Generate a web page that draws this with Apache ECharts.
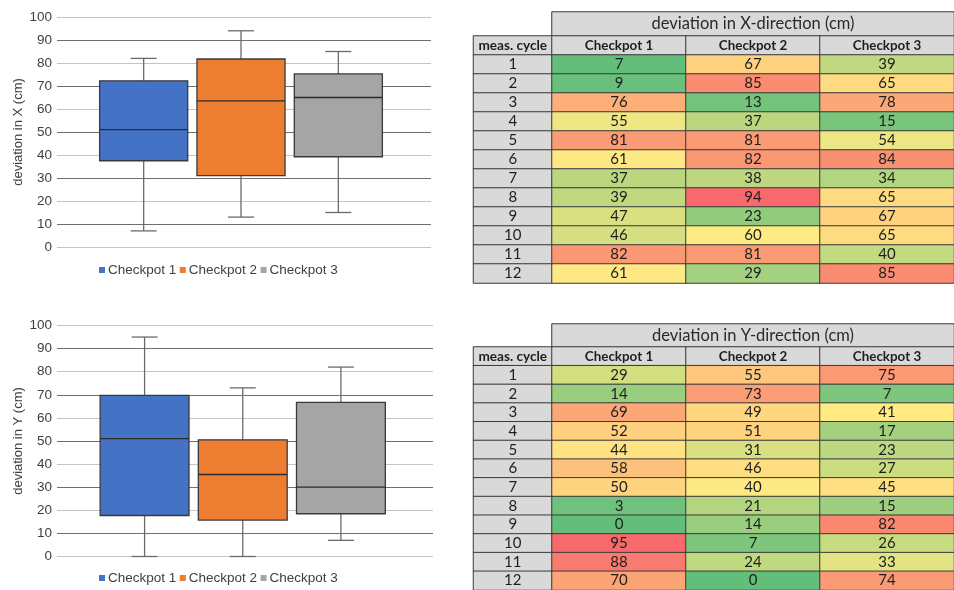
<!DOCTYPE html>
<html>
<head>
<meta charset="utf-8">
<title>Checkpoint deviations</title>
<script src="https://cdn.jsdelivr.net/npm/echarts@6/dist/echarts.min.js"></script>
<style>
  html, body { margin: 0; padding: 0; background: #fff; }
  #main { width: 954px; height: 590px; }
</style>
</head>
<body>
<div id="main"></div>
<script>
const checkpoints = ['Checkpot 1', 'Checkpot 2', 'Checkpot 3']
const cycles = ['1', '2', '3', '4', '5', '6', '7', '8', '9', '10', '11', '12']
const yTicks = [0, 10, 20, 30, 40, 50, 60, 70, 80, 90, 100]

// deviation in X-direction (cm), meas. cycle 1..12
const devX1 = [7, 9, 76, 55, 81, 61, 37, 39, 47, 46, 82, 61]
const devX2 = [67, 85, 13, 37, 81, 82, 38, 94, 23, 60, 81, 29]
const devX3 = [39, 65, 78, 15, 54, 84, 34, 65, 67, 65, 40, 85]

// deviation in Y-direction (cm), meas. cycle 1..12
const devY1 = [29, 14, 69, 52, 44, 58, 50, 3, 0, 95, 88, 70]
const devY2 = [55, 73, 49, 51, 31, 46, 40, 21, 14, 7, 24, 0]
const devY3 = [75, 7, 41, 17, 23, 27, 45, 15, 82, 26, 33, 74]

// box plots: [min, Q1, median, Q3, max]
const boxX = [
  [7, 37.5, 51, 72.25, 82],
  [13, 31, 63.5, 81.75, 94],
  [15, 39.25, 65, 75.25, 85],
]
const boxY = [
  [0, 17.75, 51, 69.75, 95],
  [0, 15.75, 35.5, 50.5, 73],
  [7, 18.5, 30, 66.75, 82],
]

const boxColors = ['#4472C4', '#ED7D31', '#A5A5A5']
const GREEN = '#63BE7B'
const YELLOW = '#FFEB84'
const RED = '#F8696B'
const HEAD_GRAY = '#D9D9D9'
const CHART_FONT = 'Liberation Sans, Arial, sans-serif'
const TABLE_FONT = 'Lato, sans-serif'

const chart = echarts.init(document.getElementById('main'))

// excel style 3 colour scale: min green, 50th percentile yellow, max red
function colorScale(values) {
  const sorted = values.slice().sort((a, b) => a - b)
  const n = sorted.length
  const lo = sorted[0]
  const hi = sorted[n - 1]
  const mid = n % 2 ? sorted[(n - 1) / 2] : (sorted[n / 2 - 1] + sorted[n / 2]) / 2
  return (v) => {
    if (v <= mid) return echarts.color.lerp((v - lo) / (mid - lo), [GREEN, YELLOW])
    return echarts.color.lerp((v - mid) / (hi - mid), [YELLOW, RED])
  }
}

function renderBox(params, api) {
  const c = api.value(0)
  const p = [1, 2, 3, 4, 5].map((k) => api.coord([c, api.value(k)]))
  const x = p[0][0]
  const bw = api.size([1, 0])[0] * 0.905
  const cap = 13
  const whisker = { stroke: '#6b6b6b', lineWidth: 1.3 }
  return {
    type: 'group',
    children: [
      { type: 'line', shape: { x1: x, y1: p[0][1], x2: x, y2: p[1][1] }, style: whisker },
      { type: 'line', shape: { x1: x, y1: p[3][1], x2: x, y2: p[4][1] }, style: whisker },
      { type: 'line', shape: { x1: x - cap, y1: p[0][1], x2: x + cap, y2: p[0][1] }, style: whisker },
      { type: 'line', shape: { x1: x - cap, y1: p[4][1], x2: x + cap, y2: p[4][1] }, style: whisker },
      {
        type: 'rect',
        shape: { x: x - bw / 2, y: p[3][1], width: bw, height: p[1][1] - p[3][1] },
        style: { fill: api.visual('color'), stroke: '#3a3a3a', lineWidth: 1.3 },
      },
      { type: 'line', shape: { x1: x - bw / 2, y1: p[2][1], x2: x + bw / 2, y2: p[2][1] }, style: { stroke: '#2b2b2b', lineWidth: 1.3 } },
    ],
  }
}

const grid = []
const xAxis = []
const yAxis = []
const series = []
const legend = []

function addGrid(g, x, y) {
  grid.push(g)
  const idx = grid.length - 1
  xAxis.push(Object.assign({ gridIndex: idx }, x))
  yAxis.push(Object.assign({ gridIndex: idx }, y))
  return idx
}

// one box plot panel: background grid with the value axis, front grid holding the boxes
function boxPanel(frame, inner, axisName, stats, legendTop) {
  addGrid(frame, { type: 'category', data: [''], show: false }, {
    type: 'value',
    min: yTicks[0],
    max: yTicks[yTicks.length - 1],
    interval: yTicks[1] - yTicks[0],
    name: axisName,
    nameLocation: 'middle',
    nameGap: 32,
    nameTextStyle: { fontSize: 13, color: '#404040', fontFamily: CHART_FONT },
    axisLine: { show: false },
    axisTick: { show: false },
    axisLabel: { margin: 5, fontSize: 13.5, color: '#404040', fontFamily: CHART_FONT },
    splitLine: { lineStyle: { color: ['#c4c4c4', '#6e6e6e'], width: 1 } },
  })
  const gi = addGrid(inner, { type: 'category', data: checkpoints, show: false }, {
    type: 'value',
    min: yTicks[0],
    max: yTicks[yTicks.length - 1],
    show: false,
  })
  stats.forEach((s, i) => {
    series.push({
      type: 'custom',
      name: checkpoints[i],
      xAxisIndex: gi,
      yAxisIndex: gi,
      itemStyle: { color: boxColors[i] },
      renderItem: renderBox,
      data: [[i].concat(s)],
      silent: true,
    })
  })
  legend.push({
    data: checkpoints,
    left: 99,
    top: legendTop,
    padding: 0,
    icon: 'rect',
    itemWidth: 6,
    itemHeight: 6,
    itemGap: 3.5,
    textStyle: { fontSize: 13.5, color: '#404040', fontFamily: CHART_FONT, padding: [0, 0, 0, -2] },
  })
}

const catAxis = (data) => ({
  type: 'category',
  data,
  show: false,
})

// one table: title cell, meas. cycle column, checkpoint columns
function tablePanel(titleTop, bodyTop, titleText, columns) {
  const cell = { borderColor: '#3a3a3a', borderWidth: 1 }
  const lbl = { show: true, color: '#1e1e1e', fontFamily: TABLE_FONT }

  let gi = addGrid({ left: 552, top: titleTop, width: 411, height: bodyTop - titleTop }, catAxis(['']), catAxis(['']))
  series.push({
    type: 'heatmap',
    xAxisIndex: gi,
    yAxisIndex: gi,
    silent: true,
    itemStyle: cell,
    label: Object.assign({}, lbl, { fontSize: 16.5, color: '#2a2a2a', formatter: '{b}' }),
    data: [{ name: titleText, value: [0, 0, 0], itemStyle: { color: HEAD_GRAY } }],
  })

  const rowCats = ['meas. cycle'].concat(cycles)
  gi = addGrid({ left: 473.5, top: bodyTop, width: 78.5, height: 247 }, catAxis(['']), Object.assign(catAxis(rowCats), { inverse: true }))
  series.push({
    type: 'heatmap',
    xAxisIndex: gi,
    yAxisIndex: gi,
    silent: true,
    itemStyle: cell,
    label: Object.assign({}, lbl, { fontSize: 15, formatter: '{b}' }),
    data: rowCats.map((c, j) => ({
      name: c,
      value: [0, j, 0],
      itemStyle: { color: HEAD_GRAY },
      label: j === 0 ? { fontWeight: 'bold', fontSize: 13.6 } : {},
    })),
  })

  const scale = colorScale([].concat(...columns))
  const body = []
  checkpoints.forEach((c, i) => {
    body.push({ name: c, value: [i, 0, 0], itemStyle: { color: HEAD_GRAY }, label: { fontWeight: 'bold', fontSize: 13.4 } })
    columns[i].forEach((v, j) => {
      body.push({ name: String(v), value: [i, j + 1, v], itemStyle: { color: scale(v) } })
    })
  })
  gi = addGrid({ left: 552, top: bodyTop, width: 411, height: 247 }, catAxis(checkpoints), Object.assign(catAxis(rowCats), { inverse: true }))
  series.push({
    type: 'heatmap',
    xAxisIndex: gi,
    yAxisIndex: gi,
    silent: true,
    itemStyle: cell,
    label: Object.assign({}, lbl, { fontSize: 15, formatter: '{b}' }),
    data: body,
  })
}

boxPanel({ left: 57, top: 17, width: 374, height: 230 }, { left: 95, top: 17, width: 292, height: 230 }, 'deviation in X (cm)', boxX, 263)
boxPanel({ left: 57, top: 325.5, width: 376, height: 231 }, { left: 95.5, top: 325.5, width: 294.5, height: 231 }, 'deviation in Y (cm)', boxY, 571)
tablePanel(12, 36, 'deviation in X-direction (cm)', [devX1, devX2, devX3])
tablePanel(324, 347, 'deviation in Y-direction (cm)', [devY1, devY2, devY3])

chart.setOption({
  backgroundColor: '#fff',
  animation: false,
  grid,
  xAxis,
  yAxis,
  legend,
  series,
})
</script>
</body>
</html>
